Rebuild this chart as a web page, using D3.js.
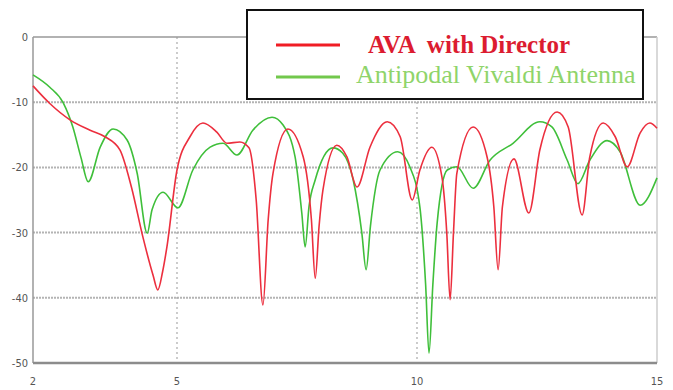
<!DOCTYPE html>
<html>
<head>
<meta charset="utf-8">
<script src="https://cdn.jsdelivr.net/npm/d3@7"></script>
<style>
  body { margin: 0; background: #fff; }
  svg { display: block; }
</style>
</head>
<body>
<svg width="673" height="390"></svg>
<script>
// frequency (GHz) and S11 (dB)
var avaX = [2.0, 2.35, 2.77, 3.19, 3.5, 3.81, 4.05, 4.29, 4.5, 4.6, 4.7, 4.79, 5.0, 5.27, 5.54, 5.83, 6.04, 6.31, 6.5, 6.65, 6.79, 6.9, 7.0, 7.31, 7.63, 7.8, 7.88, 7.96, 8.04, 8.33, 8.54, 8.75, 9.02, 9.38, 9.65, 9.9, 10.06, 10.31, 10.52, 10.62, 10.69, 10.76, 10.83, 11.17, 11.46, 11.6, 11.69, 11.78, 12.02, 12.33, 12.56, 12.92, 13.15, 13.44, 13.6, 13.88, 14.13, 14.38, 14.65, 14.85, 15.0];
var avaY = [-7.5, -10.2, -12.7, -14.3, -15.3, -17.3, -23, -30.7, -36.5, -38.8, -36, -32.2, -20.4, -15.3, -13.2, -14.6, -16.3, -16.1, -17, -25, -41.1, -28, -20.9, -14.1, -18.4, -28, -37, -29, -23.5, -16.6, -18.4, -23, -16.9, -13, -15.3, -25, -20.4, -16.9, -21.5, -30, -40.3, -30, -20.9, -13.8, -18.4, -26, -35.7, -26, -18.7, -27, -17.3, -11.5, -13.8, -27.3, -18.4, -13.2, -15.3, -19.9, -14.7, -13.2, -14.0];

var vivX = [2.0, 2.35, 2.63, 2.83, 3.0, 3.15, 3.4, 3.67, 3.96, 4.17, 4.38, 4.48, 4.71, 5.02, 5.33, 5.69, 5.96, 6.25, 6.58, 6.98, 7.21, 7.46, 7.6, 7.67, 7.75, 7.88, 8.25, 8.45, 8.67, 8.85, 8.94, 9.03, 9.23, 9.6, 9.85, 10.06, 10.18, 10.25, 10.33, 10.42, 10.63, 10.83, 11.17, 11.52, 12.0, 12.56, 12.81, 13.13, 13.35, 13.6, 13.96, 14.23, 14.65, 15.0];
var vivY = [-5.8, -7.7, -10.1, -13.8, -18.5, -22.2, -16.9, -14.1, -15.8, -20.9, -30.1, -26.5, -23.8, -26.2, -20.4, -16.9, -16.3, -18.1, -14.3, -12.3, -13.5, -18.4, -27, -32.2, -26, -21.9, -17.0, -17.8, -21.9, -30, -35.7, -29, -20.4, -17.6, -19.9, -26.1, -38, -48.5, -38, -28.5, -20.4, -19.9, -23.2, -18.9, -16.3, -13.0, -13.8, -18.9, -22.5, -18.9, -15.9, -17.6, -25.8, -21.6];

var xTicks = [2, 5, 10, 15];
var yTicks = [0, -10, -20, -30, -40, -50];
var seriesNames = ["AVA  with Director", "Antipodal Vivaldi Antenna"];

var svg = d3.select("svg");

var x = d3.scaleLinear().domain([2, 15]).range([33, 657]);
var y = d3.scaleLinear().domain([0, -50]).range([37, 363]);

var g = svg.append("g");

// grid
g.selectAll(".hgrid")
  .data([-10, -20, -30, -40])
  .enter().append("line")
    .attr("x1", x(2)).attr("x2", x(15))
    .attr("y1", function(d) { return y(d); })
    .attr("y2", function(d) { return y(d); })
    .attr("stroke", "#b4b4b4")
    .attr("stroke-width", 2)
    .attr("stroke-dasharray", "2,1");

g.selectAll(".vgrid")
  .data([5, 10])
  .enter().append("line")
    .attr("x1", function(d) { return x(d); })
    .attr("x2", function(d) { return x(d); })
    .attr("y1", y(0)).attr("y2", y(-50))
    .attr("stroke", "#aaa")
    .attr("stroke-width", 1.2)
    .attr("stroke-dasharray", "2,3");

// frame
g.append("line").attr("x1", x(2)).attr("x2", x(15)).attr("y1", y(0)).attr("y2", y(0))
  .attr("stroke", "#999").attr("stroke-width", 1.5);
g.append("line").attr("x1", x(15)).attr("x2", x(15)).attr("y1", y(0)).attr("y2", y(-50))
  .attr("stroke", "#ccc").attr("stroke-width", 1.5);
g.append("line").attr("x1", x(2)).attr("x2", x(2)).attr("y1", y(0)).attr("y2", y(-50))
  .attr("stroke", "#999").attr("stroke-width", 1.5);
g.append("line").attr("x1", x(2)).attr("x2", x(15)).attr("y1", y(-50)).attr("y2", y(-50))
  .attr("stroke", "#8c8c8c").attr("stroke-width", 2.5);

// tick labels
var font = "'Liberation Sans Narrow', 'DejaVu Sans Condensed', sans-serif";
g.selectAll(".ylab")
  .data(yTicks)
  .enter().append("text")
    .attr("x", x(2) - 5)
    .attr("y", function(d) { return y(d) + 4; })
    .attr("text-anchor", "end")
    .attr("font-family", font)
    .attr("font-size", 11)
    .attr("fill", "#555")
    .text(function(d) { return d; });

g.selectAll(".xlab")
  .data(xTicks)
  .enter().append("text")
    .attr("x", function(d) { return x(d); })
    .attr("y", 385)
    .attr("text-anchor", "middle")
    .attr("font-family", font)
    .attr("font-size", 11)
    .attr("fill", "#555")
    .text(function(d) { return d; });

// curves
var line = d3.line()
    .x(function(d) { return x(d[0]); })
    .y(function(d) { return y(d[1]); })
    .curve(d3.curveMonotoneX);

var viv = d3.zip(vivX, vivY);
var ava = d3.zip(avaX, avaY);

g.append("path")
  .attr("d", line(viv))
  .attr("fill", "none")
  .attr("stroke", "#3fbf3a")
  .attr("stroke-width", 1.6);

g.append("path")
  .attr("d", line(ava))
  .attr("fill", "none")
  .attr("stroke", "#ec2f3e")
  .attr("stroke-width", 1.6);

// legend
var lg = svg.append("g");
lg.append("rect")
  .attr("x", 247).attr("y", 10)
  .attr("width", 396).attr("height", 89)
  .attr("fill", "#fff")
  .attr("stroke", "#111")
  .attr("stroke-width", 2);

var legColors = ["#f01c24", "#72c84c"];
var textColors = ["#dc1c30", "#8fd46a"];
var legY = [45, 77];

lg.selectAll(".lline")
  .data(seriesNames)
  .enter().append("line")
    .attr("x1", 276).attr("x2", 340)
    .attr("y1", function(d, i) { return legY[i]; })
    .attr("y2", function(d, i) { return legY[i]; })
    .attr("stroke", function(d, i) { return legColors[i]; })
    .attr("stroke-width", 3);

svg.append("clipPath").attr("id", "legclip")
  .append("rect").attr("x", 247).attr("y", 10).attr("width", 395).attr("height", 89);

lg.selectAll(".ltext")
  .data(seriesNames)
  .enter().append("text")
    .attr("x", function(d, i) { return i == 0 ? 368 : 356; })
    .attr("y", function(d, i) { return i == 0 ? 53 : 83; })
    .attr("font-family", "'Liberation Serif', 'DejaVu Serif', serif")
    .attr("font-size", function(d, i) { return i == 0 ? 25 : 26; })
    .attr("font-weight", function(d, i) { return i == 0 ? "bold" : "normal"; })
    .attr("fill", function(d, i) { return textColors[i]; })
    .attr("clip-path", "url(#legclip)")
    .style("white-space", "pre")
    .text(function(d) { return d; });
</script>
</body>
</html>
